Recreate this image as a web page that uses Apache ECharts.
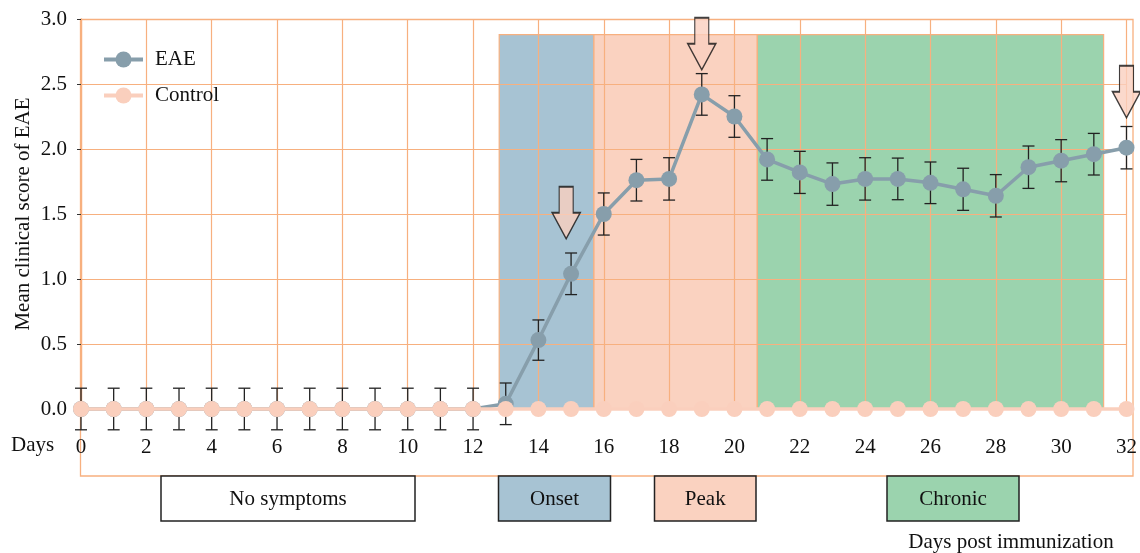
<!DOCTYPE html>
<html>
<head>
<meta charset="utf-8">
<script src="https://cdn.jsdelivr.net/npm/echarts@6/dist/echarts.min.js"></script>
<style>html,body{margin:0;padding:0;background:#fff;}#c{width:1140px;height:553px;}</style>
</head>
<body>
<div id="c"></div>
<script>
// ---- data ----
var days = [0,1,2,3,4,5,6,7,8,9,10,11,12,13,14,15,16,17,18,19,20,21,22,23,24,25,26,27,28,29,30,31,32];
var eaeMean = [0,0,0,0,0,0,0,0,0,0,0,0,0,0.04,0.53,1.04,1.50,1.76,1.77,2.42,2.25,1.92,1.82,1.73,1.77,1.77,1.74,1.69,1.64,1.86,1.91,1.96,2.01];
var eaeErr  = [0.16,0.16,0.16,0.16,0.16,0.16,0.16,0.16,0.16,0.16,0.16,0.16,0.16,0.16,0.155,0.16,0.162,0.16,0.163,0.16,0.16,0.16,0.162,0.163,0.163,0.16,0.16,0.162,0.163,0.163,0.162,0.16,0.163];
var controlMean = [0,0,0,0,0,0,0,0,0,0,0,0,0,0,0,0,0,0,0,0,0,0,0,0,0,0,0,0,0,0,0,0,0];
var phaseNames = ['Onset','Peak','Chronic'];
var phaseStart = [12.8, 15.7, 20.7];
var phaseEnd   = [15.7, 20.7, 31.3];
var phaseTop = 2.88;
var arrowDay = [14.85, 19, 32];
var arrowTip = [1.31, 2.61, 2.24];
var xTicks = [0,2,4,6,8,10,12,14,16,18,20,22,24,26,28,30,32];
var yTicks = ['0.0','0.5','1.0','1.5','2.0','2.5','3.0'];

var SERIF = '"Liberation Serif","DejaVu Serif",serif';
var FS = 21;
var ORANGE = '#f7b07f';
var EAE_C = '#879eab';
var CTRL_C = '#facfbd';
var phaseColors = ['#a7c3d3', '#fad2c0', '#9bd3ae'];

var eaeData = days.map(function(d,i){return [d, eaeMean[i]];});
var ctrlData = days.map(function(d,i){return [d, controlMean[i]];});
var errData = days.map(function(d,i){return [d, eaeMean[i], eaeErr[i]];});
var areaData = phaseNames.map(function(n,i){
  return [{xAxis: phaseStart[i], yAxis: 0, itemStyle:{color: phaseColors[i]}}, {xAxis: phaseEnd[i], yAxis: phaseTop}];
});
var arrowData = arrowDay.map(function(d,i){return [d, arrowTip[i]];});

var chart = echarts.init(document.getElementById('c'));

var boxes = [
  {label:'No symptoms', x:161, w:254, color:'#ffffff'},
  {label:'Onset', x:498.5, w:112, color:phaseColors[0]},
  {label:'Peak', x:654.5, w:101.5, color:phaseColors[1]},
  {label:'Chronic', x:887, w:132, color:phaseColors[2]}
];
var graphics = [
  {type:'rect', z:1.5, shape:{x:80.5, y:19.5, width:1052.5, height:456.5}, style:{fill:'none', stroke:ORANGE, lineWidth:1.3}},
  {type:'text', z:10, x:11, y:445, style:{text:'Days', font:FS+'px '+SERIF, fill:'#111', verticalAlign:'middle'}},
  {type:'text', z:10, x:1011, y:542, style:{text:'Days post immunization', font:FS+'px '+SERIF, fill:'#111', align:'center', verticalAlign:'middle'}}
];
boxes.forEach(function(b){
  graphics.push({type:'rect', z:10, shape:{x:b.x, y:476, width:b.w, height:45}, style:{fill:b.color, stroke:'#222', lineWidth:1.5}});
  graphics.push({type:'text', z:11, x:b.x + b.w/2, y:499, style:{text:b.label, font:FS+'px '+SERIF, fill:'#111', align:'center', verticalAlign:'middle'}});
});

chart.setOption({
  animation: false,
  backgroundColor: '#fff',
  grid: {left: 81, right: 7, top: 19, bottom: 144},
  legend: {
    data: ['EAE','Control'], orient: 'vertical', left: 97, top: 44,
    itemWidth: 39, itemHeight: 20, itemGap: 15,
    lineStyle: {width: 4},
    textStyle: {fontFamily: SERIF, fontSize: FS, color: '#111', padding: [0,0,0,7]}
  },
  xAxis: {
    type: 'value', min: 0, max: 32, interval: 2, z: 1.5,
    axisLine: {show: false}, axisTick: {show: false},
    axisLabel: {margin: 28, fontFamily: SERIF, fontSize: FS, color: '#111',
      formatter: function(v){ return xTicks.indexOf(v) >= 0 ? String(v) : ''; }},
    splitLine: {show: true, lineStyle: {color: ORANGE, width: 1.2}}
  },
  yAxis: {
    type: 'value', min: 0, max: 3, interval: 0.5, z: 1.5,
    name: 'Mean clinical score of EAE', nameLocation: 'middle', nameGap: 47, nameMoveOverlap: false,
    nameTextStyle: {fontFamily: SERIF, fontSize: FS, color: '#111'},
    axisLine: {show: true, lineStyle: {color: ORANGE, width: 1.3}},
    axisTick: {show: true, length: 4, lineStyle: {color: '#333', width: 1}},
    axisLabel: {margin: 14, fontFamily: SERIF, fontSize: FS, color: '#111',
      formatter: function(v){ return yTicks[Math.round(v*2)]; }},
    splitLine: {show: true, lineStyle: {color: ORANGE, width: 1.2}}
  },
  graphic: graphics,
  series: [
    {
      name: 'phases', type: 'line', data: [], z: 0, silent: true,
      markArea: {z: 0, silent: true, itemStyle: {borderColor: ORANGE, borderWidth: 1.2}, label: {show: false}, data: areaData}
    },
    {
      name: 'err', type: 'custom', z: 2, clip: false, silent: true,
      encode: {x: 0, y: 1},
      data: errData,
      renderItem: function(params, api){
        var x = api.value(0), m = api.value(1), e = api.value(2);
        var t = api.coord([x, m+e]), b = api.coord([x, m-e]);
        var hw = 6;
        var st = {stroke: '#222', lineWidth: 1.3};
        return {type: 'group', children: [
          {type:'line', shape:{x1:t[0], y1:t[1], x2:b[0], y2:b[1]}, style: st},
          {type:'line', shape:{x1:t[0]-hw, y1:t[1], x2:t[0]+hw, y2:t[1]}, style: st},
          {type:'line', shape:{x1:b[0]-hw, y1:b[1], x2:b[0]+hw, y2:b[1]}, style: st}
        ]};
      }
    },
    {
      name: 'EAE', type: 'line', z: 3, clip: false, data: eaeData,
      symbol: 'circle', symbolSize: 16, showAllSymbol: true,
      lineStyle: {color: EAE_C, width: 3.5}, itemStyle: {color: EAE_C}
    },
    {
      name: 'Control', type: 'line', z: 4, clip: false, data: ctrlData,
      symbol: 'circle', symbolSize: 16, showAllSymbol: true,
      lineStyle: {color: CTRL_C, width: 3.5}, itemStyle: {color: CTRL_C}
    },
    {
      name: 'arrows', type: 'scatter', z: 5, clip: false, silent: true,
      data: arrowData,
      symbol: 'path://M7,0 L21,0 L21,26 L28,26 L14,52 L0,26 L7,26 Z',
      symbolKeepAspect: false,
      symbolSize: [28, 52], symbolOffset: [0, '-50%'],
      itemStyle: {color: '#fad0bf', borderColor: '#111', borderWidth: 1.5}
    }
  ]
});
</script>
</body>
</html>
